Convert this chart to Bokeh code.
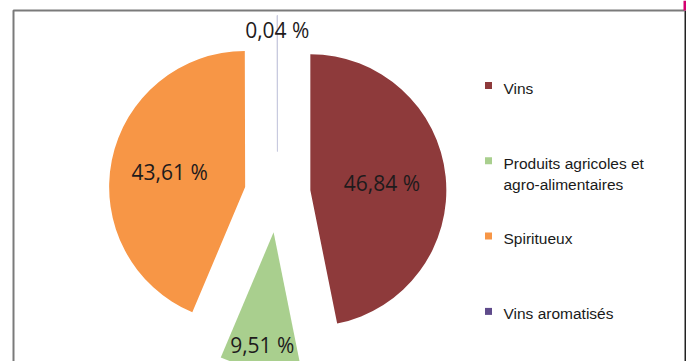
import math
from bokeh.plotting import figure
from bokeh.models import Range1d, ColumnDataSource
from bokeh.core.properties import value
from bokeh.embed import file_html
from bokeh.resources import INLINE

# ---- data ----
categories = ["Vins", "Produits agricoles et\nagro-alimentaires", "Spiritueux", "Vins aromatisés"]
shares = [46.84, 9.51, 43.61, 0.04]
labels = ["46,84 %", "9,51 %", "43,61 %", "0,04 %"]
colors = ["#8E3A3B", "#A9CF8E", "#F79646", "#5F4B8B"]

# ---- layout ----
W, H = 686, 361
CX, CY = 277, H - 193
R = 136
explode = [33, 39, 33, 42]
label_dist = [105, 152, 110, 164]
legend_x_sq, legend_x_txt = 488, 503
legend_top0, legend_step = 82, 75.3

p = figure(width=W, height=H, output_backend="svg", toolbar_location=None,
           x_range=Range1d(0, W), y_range=Range1d(0, H), min_border=0)
p.axis.visible = False
p.grid.visible = False
p.outline_line_color = None
p.background_fill_color = "white"
p.border_fill_color = "white"

total = sum(shares)
xs, ys, sa, ea, lx, ly, la = [], [], [], [], [], [], []
acc = 0.0
for i, s in enumerate(shares):
    a0 = acc / total * 2 * math.pi
    acc += s
    a1 = acc / total * 2 * math.pi
    mid = (a0 + a1) / 2
    xs.append(CX + explode[i] * math.sin(mid))
    ys.append(CY + explode[i] * math.cos(mid))
    sa.append(math.pi / 2 - a1)
    ea.append(math.pi / 2 - a0)
    lx.append(CX + label_dist[i] * math.sin(mid))
    ly.append(CY + label_dist[i] * math.cos(mid))
    la.append(1 if s < 1 else 0)

src = ColumnDataSource(dict(x=xs, y=ys, sa=sa, ea=ea, color=colors, la=la,
                            lx=lx, ly=ly, label=labels))
p.wedge(x="x", y="y", radius=R, start_angle="sa", end_angle="ea",
        fill_color="color", line_color="#C8CADF", line_alpha="la", line_width=1,
        source=src)

p.text(x="lx", y="ly", text="label", source=src, text_align="center",
       text_baseline="middle", text_font=value("Open Sans"), text_font_size="21px",
       text_color="#1E1B1C")

# legend
ly_sq = [H - (legend_top0 + i * legend_step) - 3 for i in range(len(categories))]
ly_txt = [H - (legend_top0 + i * legend_step) + 3 for i in range(len(categories))]
lsrc = ColumnDataSource(dict(xs=[legend_x_sq] * 4, ys=ly_sq, xt=[legend_x_txt] * 4,
                             yt=ly_txt, text=categories, color=colors))
p.scatter(x="xs", y="ys", marker="square", size=7, fill_color="color",
          line_color=None, source=lsrc)
p.text(x="xt", y="yt", text="text", source=lsrc, text_align="left",
       text_baseline="top", text_font=value("Liberation Sans"),
       text_font_size="15.5px", text_color="#1A1A1A", text_line_height=1.25)

# frame
p.line([13, 13, 684], [0, H - 10, H - 10], line_color="#7A7A7A", line_width=2)
p.line([685, 685], [0, H - 10], line_color="#222222", line_width=2)
p.line([684.5, 684.5], [H - 10, H], line_color="#D4006F", line_width=3)

open("out.html", "w").write(file_html(p, INLINE))
